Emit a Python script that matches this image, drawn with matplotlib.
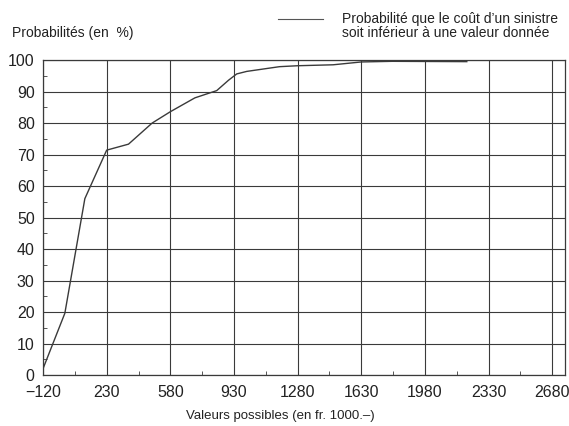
import numpy as np
import matplotlib
matplotlib.use('Agg')
import matplotlib.pyplot as plt

plt.rcParams['font.family'] = ['Liberation Sans', 'DejaVu Sans']

# cumulative probability (%) vs. claim value (fr. 1000.-)
valeurs = [-120, 0, 110, 230, 350, 480, 580, 715, 835, 900, 945, 1000, 1180, 1280, 1475, 1630, 1800, 2210]
probas = [2, 19.6, 56, 71.4, 73.3, 80, 83.6, 88, 90.3, 93.6, 95.6, 96.4, 97.9, 98.2, 98.5, 99.4, 99.6, 99.5]

xticks = [-120, 230, 580, 930, 1280, 1630, 1980, 2330, 2680]
yticks = list(range(0, 101, 10))

fig = plt.figure(figsize=(5.69, 4.26), dpi=100)
ax = fig.add_axes([0.0756, 0.1197, 0.9174, 0.7393])

ax.plot(valeurs, probas, color='#3a3a3a', linewidth=1.0, zorder=3)

ax.set_xlim(-120, 2750)
ax.set_ylim(0, 100)
ax.set_xticks(xticks)
ax.set_xticklabels(['\u2212120'] + [str(t) for t in xticks[1:]])
ax.set_yticks(yticks)
ax.set_xticks([t + 175 for t in xticks[:-1]], minor=True)
ax.set_yticks([t + 5 for t in yticks[:-1]], minor=True)
ax.grid(True, which='major', color='#3a3a3a', linewidth=0.8)
ax.tick_params(which='both', direction='in', colors='#3a3a3a', labelcolor='#222222',
               labelsize=11.5, top=False, right=False)
ax.tick_params(which='major', length=0)
ax.tick_params(axis='x', which='major', pad=7)
ax.tick_params(axis='y', which='major', pad=6)
ax.tick_params(which='minor', length=3)
for s in ax.spines.values():
    s.set_color('#3a3a3a')
    s.set_linewidth(0.9)

fig.text(0.021, 1 - 33 / 426, 'Probabilités (en  %)', fontsize=10, color='#222222', va='center')
fig.text(0.492, 1 - 416 / 426, 'Valeurs possibles (en fr. 1000.\u2013)', fontsize=9.5,
         color='#222222', ha='center', va='center')
fig.lines.append(plt.Line2D([278 / 569, 323 / 569], [1 - 19 / 426, 1 - 19 / 426],
                            transform=fig.transFigure, color='#555555', linewidth=0.8))
fig.text(342 / 569, 1 - 26 / 426,
         'Probabilité que le coût d\u2019un sinistre\nsoit inférieur à une valeur donnée',
         fontsize=10, color='#222222', va='center', linespacing=1.05)

fig.savefig('out.png', dpi=100)
